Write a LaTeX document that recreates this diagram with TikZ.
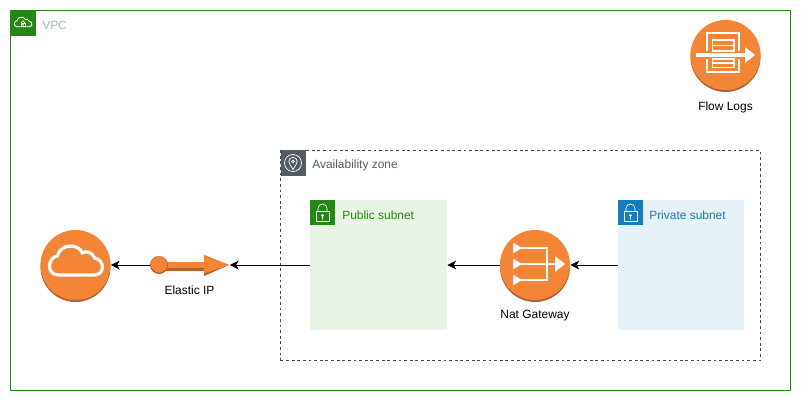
\documentclass[tikz,border=0pt]{standalone}
\usepackage{fontspec}
\setmainfont{Liberation Sans}
\usetikzlibrary{arrows.meta}
\definecolor{awsGreen}{RGB}{36,136,20}
\definecolor{awsBlue}{RGB}{20,126,186}
\definecolor{awsSlate}{RGB}{84,91,100}
\definecolor{awsMist}{RGB}{170,183,184}
\definecolor{awsOrange}{RGB}{245,133,54}
\definecolor{awsShade}{RGB}{178,98,44}
\definecolor{boxGreen}{RGB}{233,243,230}
\definecolor{boxBlue}{RGB}{230,242,248}

\tikzset{
  cloudglyph/.pic={
    \draw (-17,10) .. controls (-23,10) and (-26,6) .. (-26,1)
      .. controls (-26,-4) and (-22,-9) .. (-18,-9)
      .. controls (-17,-15) and (-11,-19) .. (-5,-19)
      .. controls (1,-19) and (5,-16) .. (7,-12)
      .. controls (10,-14) and (16,-14) .. (19,-7)
      .. controls (24,-6) and (27,-2) .. (27,2)
      .. controls (27,7) and (23,10) .. (19,10) -- cycle;
  },
  lockglyph/.pic={
    \draw (-6.5,-1) rectangle (6.5,9);
    \draw (-4.5,-1) -- (-4.5,-4) arc[start angle=180,end angle=360,radius=4.5] -- (4.5,-1);
    \draw (0,3) circle (1.2) (0,4.2) -- (0,7);
  },
  pinglyph/.pic={
    \draw (0,0) circle (8.5);
    \draw (0,6.5) .. controls (-2,3) and (-4.2,0.5) .. (-4.2,-1.5)
      arc[start angle=180,end angle=360,radius=4.2]
      .. controls (4.2,0.5) and (2,3) .. (0,6.5) -- cycle;
    \draw (0,-1.5) circle (1.4);
  },
  flowglyph/.pic={
    \draw[line width=1.6pt] (-18.5,-4) -- (-18.5,-22) -- (13.5,-22) -- (13.5,-4)
      (-18.5,4) -- (-18.5,17) -- (13.5,17) -- (13.5,4);
    \draw[line width=1.2pt] (-13,-15) rectangle (8.5,-4) (-13,-9.5) -- (8.5,-9.5)
      (-13,4) rectangle (8.5,12.5) (-13,8.2) -- (8.5,8.2);
    \fill (-29.5,-1.7) rectangle (20,1.7);
    \fill (19.5,-8) -- (29.5,0) -- (19.5,8) -- cycle;
  },
  natglyph/.pic={
    \draw[line width=1.8pt] (-14,-17) -- (12,-17) -- (12,15) -- (-14,15)
      (-14,-1) -- (20,-1);
    \fill (-22,-22.5) -- (-13,-17) -- (-22,-11.5) -- cycle
      (-22,-6.5) -- (-13,-1) -- (-22,4.5) -- cycle
      (-22,9.5) -- (-13,15) -- (-22,20.5) -- cycle;
    \fill (20,-9) -- (30,-1) -- (20,7) -- cycle;
  },
  eipglyph/.pic={
    \fill[awsShade] (-31,-3.5) rectangle (14,5.5);
    \fill[awsOrange] (-31,-3.5) rectangle (14,2.5);
    \fill[awsShade] (14,-10) -- (39,0) -- (14,11) -- cycle;
    \fill[awsOrange] (14,-10) -- (39,0) -- (14,8.5) -- cycle;
    \fill[awsShade] (-31,0) circle (9);
    \fill[awsOrange] (-31,-0.8) circle (8.2);
  }
}

\begin{document}
\begin{tikzpicture}[
      x=0.025cm,y=-0.025cm,
      font=\fontsize{8.5}{10}\selectfont,
      >={Stealth[length=2.2mm,width=2.2mm,inset=0.6mm]},
      disc/.style={circle,fill=awsOrange,minimum size=17.5mm,inner sep=0pt,
                   preaction={fill=awsShade,transform canvas={yshift=-0.5mm}}},
      subnet/.style={rectangle,minimum height=32.5mm,inner sep=0pt},
      badge/.style={rectangle,minimum size=6.25mm,inner sep=0pt},
      tag/.style={anchor=west,inner sep=0pt},
      glyph/.style={white,line width=0.5pt},
      ar/.style={->,black,line width=0.7pt}]

    \useasboundingbox (0,0) rectangle (801,401);
    \fill[white] (0,0) rectangle (801,401);

    % ---------- frames ----------
    \node[rectangle,draw=awsGreen,line width=0.7pt,minimum width=195mm,minimum height=94.75mm,inner sep=0pt]
      (vpc) at (400.5,200.5) {};
    \node[rectangle,draw=awsSlate!80!black,line width=0.6pt,dash pattern=on 2pt off 2pt,minimum width=120mm,
      minimum height=52.5mm,inner sep=0pt] (zone) at (520.5,255.5) {};
    \node[subnet,fill=boxGreen,minimum width=34.25mm] (public) at (378.5,265) {};
    \node[subnet,fill=boxBlue,minimum width=31.5mm] (private) at (681,265) {};

    % ---------- badges and their labels ----------
    \node[badge,fill=awsGreen] (vpcbadge) at (23,23.5) {};
    \pic[glyph,scale=0.33,line width=0.6pt] at (vpcbadge) {cloudglyph};
    \pic[glyph,scale=0.33,line width=0.5pt,yshift=-0.2mm] at (vpcbadge) {lockglyph};
    \node[tag,text=awsMist] (vpclabel) at (42,25) {VPC};

    \node[badge,fill=awsSlate] (zonebadge) at (293,163) {};
    \pic[glyph] at (zonebadge) {pinglyph};
    \node[tag,text=awsSlate] (zonelabel) at (312,165) {Availability zone};

    \node[badge,fill=awsGreen] (pubbadge) at (322.5,212.5) {};
    \pic[glyph] at (pubbadge) {lockglyph};
    \node[tag,text=awsGreen] (publabel) at (342,215) {Public subnet};

    \node[badge,fill=awsBlue] (pribadge) at (630.5,212.5) {};
    \pic[glyph] at (pribadge) {lockglyph};
    \node[tag,text=awsBlue] (prilabel) at (649,215) {Private subnet};

    % ---------- services ----------
    \node[disc] (flow) at (725.5,55) {};
    \pic[glyph] at (flow) {flowglyph};
    \node (flowlabel) at (725.5,107) {Flow Logs};

    \node[disc] (nat) at (535,265) {};
    \pic[glyph] at (nat) {natglyph};
    \node (natlabel) at (535,315.5) {Nat Gateway};

    \node[disc] (inet) at (75.5,265) {};
    \pic[glyph,line width=2.3pt] at (inet) {cloudglyph};

    \node[rectangle,minimum width=19.75mm,minimum height=5mm,inner sep=0pt] (eip) at (190,265) {};
    \pic at (eip) {eipglyph};
    \node (eiplabel) at (189.5,290.5) {Elastic IP};

    % ---------- connectors ----------
    \foreach \a/\b in {private/nat,nat/public,public/eip,eip/inet} \draw[ar] (\a) -- (\b);
  \end{tikzpicture}
\end{document}
